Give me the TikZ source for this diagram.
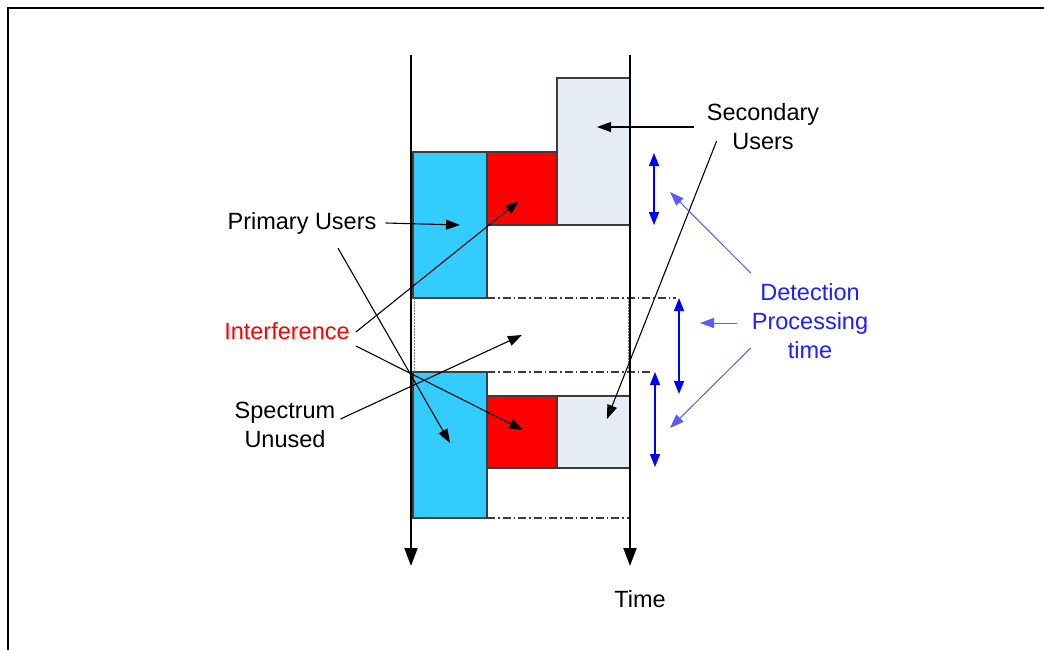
\documentclass[tikz,border=0pt]{standalone}
\usepackage{fontspec}
\setmainfont{Liberation Sans}
\usetikzlibrary{arrows.meta,calc}

\definecolor{puCyan}{RGB}{51,204,255}
\definecolor{suPale}{RGB}{230,236,246}
\definecolor{edgeGrey}{RGB}{60,60,60}
\definecolor{dpBlue}{RGB}{0,0,255}
\definecolor{dpLink}{RGB}{90,90,255}
\definecolor{lblBlue}{RGB}{30,30,255}

\tikzset{
  slot/.style={draw=edgeGrey, line width=1.2pt, anchor=north west, inner sep=0pt, outer sep=0pt},
  label/.style={font=\fontsize{23.5}{29}\selectfont, align=center, inner sep=2pt},
  timeaxis/.style={line width=2.2pt, -{Triangle[length=18pt,width=13pt]}},
  pointer/.style={line width=1.1pt, -{Triangle[length=14pt,width=10pt]}},
  bluepointer/.style={line width=1pt, dpLink, -{Triangle[length=14pt,width=10pt]}},
  interval/.style={line width=1.5pt, dpBlue, {Triangle[length=13pt,width=10pt]}-{Triangle[length=13pt,width=10pt]}},
  sensegap/.style={line width=1.1pt, edgeGrey, dash pattern=on 8pt off 3pt on 1.5pt off 3pt},
  idlegap/.style={line width=0.9pt, gray, dash pattern=on 1.5pt off 1.5pt},
}

\begin{document}
\begin{tikzpicture}[x=1pt,y=-1pt]
\useasboundingbox (0,0) rectangle (1044,650);

% outer frame (top and left edges)
\draw[line width=2pt] (8,650) -- (8,8) -- (1044,8);

% spectrum slots, first round
\node[slot, fill=puCyan, minimum width=74pt, minimum height=146pt] (pu1) at (413,152) {};
\node[slot, fill=red, minimum width=70pt, minimum height=73pt] (ir1) at (487,152) {};
\node[slot, fill=suPale, minimum width=73pt, minimum height=147pt] (su1) at (557,78) {};

% spectrum slots, second round
\node[slot, fill=puCyan, minimum width=74pt, minimum height=146pt] (pu2) at (413,372) {};
\node[slot, fill=red, minimum width=70pt, minimum height=72pt] (ir2) at (487,396) {};
\node[slot, fill=suPale, minimum width=73pt, minimum height=72pt] (su2) at (557,396) {};

% idle band between the two rounds
\coordinate (idleTL) at (414,298);
\coordinate (idleTR) at (628,298);
\coordinate (idleBL) at (414,372);
\coordinate (idleBR) at (628,372);
\draw[idlegap] (idleTL) -- (idleBL);
\draw[idlegap] (idleTR) -- (idleBR);

% sensing boundaries
\coordinate (g1end) at (676,298);
\coordinate (g2end) at (653,372);
\coordinate (g3end) at (630,518);
\draw[sensegap] (pu1.south east) -- (g1end);
\draw[sensegap] (pu2.north east) -- (g2end);
\draw[sensegap] (pu2.south east) -- (g3end);

% time axes
\coordinate (axL0) at (411,55);
\coordinate (axL1) at (411,566);
\coordinate (axR0) at (630,55);
\coordinate (axR1) at (630,566);
\draw[timeaxis] (axL0) -- (axL1);
\draw[timeaxis] (axR0) -- (axR1);
\node[label] (time) at (640,599) {Time};

% detection intervals
\coordinate (d1a) at (654,153);
\coordinate (d1b) at (654,225);
\coordinate (d2a) at (679,298);
\coordinate (d2b) at (679,394);
\coordinate (d3a) at (655,372);
\coordinate (d3b) at (655,467);
\draw[interval] (d1a) -- (d1b);
\draw[interval] (d2a) -- (d2b);
\draw[interval] (d3a) -- (d3b);

% labels
\node[label] (primary) at (302,223) {Primary Users};
\node[label, text=red] (interf) at (287,331) {Interference};
\node[label] (unused) at (285,425) {Spectrum\\Unused};
\node[label] (secondary) at (763,127) {Secondary\\Users};
\node[label, text=lblBlue] (detect) at (810,321) {Detection\\Processing\\time};

% pointer targets
\coordinate (tPu1) at (460,225);
\coordinate (tPu2) at (450,443);
\coordinate (tIr1) at (519,201);
\coordinate (tIr2) at (523,430);
\coordinate (tIdle) at (522,335);
\coordinate (tSu1) at (597,127);
\coordinate (tSu2) at (607,419);
\coordinate (tD1) at (670,192);
\coordinate (tD2) at (700,323);
\coordinate (tD3) at (670,428);

% label pointers
\draw[pointer] ([xshift=7pt]primary.east) -- (tPu1);
\draw[pointer] ([shift={(36,12)}]primary.south) -- (tPu2);
\draw[pointer] ([shift={(4,1)}]interf.east) -- (tIr1);
\draw[pointer] ([shift={(4,15)}]interf.east) -- (tIr2);
\draw[pointer] ([shift={(3,-6)}]unused.east) -- (tIdle);
\draw[pointer] ([shift={(-11,0)}]secondary.west) -- (tSu1);
\draw[pointer] ([shift={(12,14)}]secondary.west) -- (tSu2);
\draw[bluepointer] ([shift={(1,-48)}]detect.west) -- (tD1);
\draw[bluepointer] ([shift={(-13,2)}]detect.west) -- (tD2);
\draw[bluepointer] ([shift={(1,27)}]detect.west) -- (tD3);
\end{tikzpicture}
\end{document}
